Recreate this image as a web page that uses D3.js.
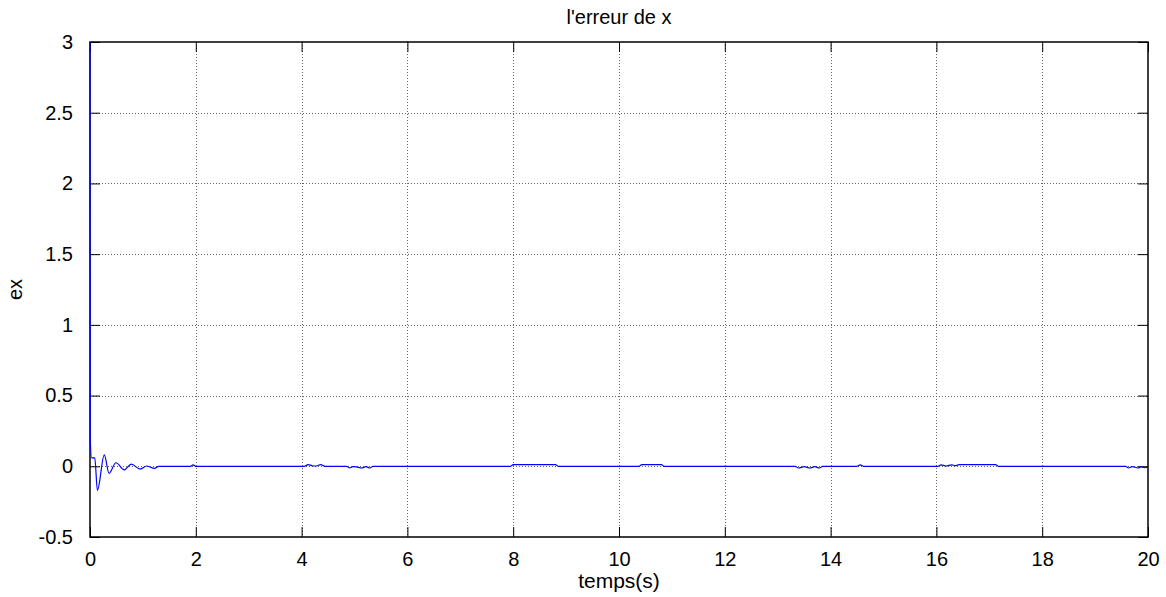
<!DOCTYPE html>
<html>
<head>
<meta charset="utf-8">
<script src="https://cdn.jsdelivr.net/npm/d3@7"></script>
<style>
  body { margin: 0; background: #fff; }
  text { font-family: "Liberation Sans", Arial, sans-serif; fill: #000; }
</style>
</head>
<body>
<div id="chart"></div>
<script>
// time samples (s) and error values
var tData = [0, 0.005, 0.03, 0.09, 0.14, 0.27, 0.36, 0.49, 0.65, 0.78, 0.95, 1.07, 1.22, 1.3,
  1.9, 1.95, 2.0, 4.05, 4.12, 4.2, 4.28, 4.36, 4.45, 4.85, 4.91, 4.97, 5.03, 5.13, 5.22, 5.29, 5.35,
  7.95, 8.0, 8.8, 8.85, 10.38, 10.43, 10.8, 10.85, 13.33, 13.39, 13.5, 13.61, 13.7, 13.79, 13.85,
  14.5, 14.56, 14.62, 16.03, 16.09, 16.18, 16.29, 16.36, 16.43, 17.12, 17.17,
  19.58, 19.63, 19.7, 19.81, 19.87, 19.94, 20];
var exData = [3, 0.18, 0.06, 0.06, -0.17, 0.08, -0.05, 0.025, -0.025, 0.015, -0.02, 0.002, -0.015, 0,
  0, 0.01, 0, 0, 0.012, 0.004, 0.002, 0.012, 0, 0, -0.012, -0.003, -0.004, -0.012, -0.003, -0.012, 0,
  0, 0.012, 0.012, 0, 0, 0.012, 0.012, 0, 0, -0.012, -0.003, -0.012, -0.003, -0.012, 0,
  0, 0.01, 0, 0, 0.01, 0.002, 0.01, 0.004, 0.012, 0.012, 0,
  0, -0.012, -0.002, -0.012, -0.004, -0.01, -0.005];

var xTicks = [0, 2, 4, 6, 8, 10, 12, 14, 16, 18, 20];
var yTicks = [-0.5, 0, 0.5, 1, 1.5, 2, 2.5, 3];

var W = 1166, H = 597;
var pL = 90, pR = 1148, pT = 42, pB = 537;

var svg = d3.select('#chart').append('svg')
    .attr('width', W)
    .attr('height', H);

var x = d3.scaleLinear().domain([0, 20]).range([pL, pR]);
var y = d3.scaleLinear().domain([-0.5, 3]).range([pB, pT]);

// grid
svg.append('g').selectAll('line')
    .data(xTicks.slice(1, -1)).enter().append('line')
    .attr('x1', function(d){ return Math.round(x(d)) + 0.5; })
    .attr('x2', function(d){ return Math.round(x(d)) + 0.5; })
    .attr('y1', pT).attr('y2', pB)
    .attr('stroke', '#666').attr('stroke-dasharray', '1,2');
svg.append('g').selectAll('line')
    .data(yTicks.slice(1, -1)).enter().append('line')
    .attr('y1', function(d){ return Math.round(y(d)) + 0.5; })
    .attr('y2', function(d){ return Math.round(y(d)) + 0.5; })
    .attr('x1', pL).attr('x2', pR)
    .attr('stroke', '#666').attr('stroke-dasharray', '1,2');

// axes (MATLAB style, inward ticks on all four sides)
var fmt = function(d){ return String(d); };
svg.append('g').attr('transform', 'translate(0,' + pB + ')')
    .call(d3.axisBottom(x).tickValues(xTicks).tickSizeInner(-10).tickSizeOuter(0).tickPadding(15).tickFormat(fmt));
svg.append('g').attr('transform', 'translate(0,' + pT + ')')
    .call(d3.axisTop(x).tickValues(xTicks).tickSizeInner(-10).tickSizeOuter(0).tickFormat(''));
svg.append('g').attr('transform', 'translate(' + pL + ',0)')
    .call(d3.axisLeft(y).tickValues(yTicks).tickSizeInner(-10).tickSizeOuter(0).tickPadding(17).tickFormat(fmt));
svg.append('g').attr('transform', 'translate(' + pR + ',0)')
    .call(d3.axisRight(y).tickValues(yTicks).tickSizeInner(-10).tickSizeOuter(0).tickFormat(''));

svg.selectAll('.domain').remove();
svg.selectAll('.tick line').attr('stroke', '#000');
svg.selectAll('.tick text').style('font-size', '20px').attr('fill', '#000');

svg.append('rect')
    .attr('x', pL).attr('y', pT)
    .attr('width', pR - pL).attr('height', pB - pT)
    .attr('fill', 'none').attr('stroke', '#000').attr('stroke-width', 1.5);

// signal
var pts = tData.map(function(t, i){ return [t, exData[i]]; });
svg.append('path')
    .datum(pts)
    .attr('fill', 'none')
    .attr('stroke', '#0000ff')
    .attr('stroke-width', 1.2)
    .attr('d', d3.line().curve(d3.curveMonotoneX)
        .x(function(d){ return x(d[0]); }).y(function(d){ return y(d[1]); }));

// labels
svg.append('text').attr('x', (pL + pR) / 2).attr('y', 24)
    .attr('text-anchor', 'middle').style('font-size', '20px').text("l'erreur de x");
svg.append('text').attr('x', (pL + pR) / 2).attr('y', 588)
    .attr('text-anchor', 'middle').style('font-size', '21px').text('temps(s)');
svg.append('text').attr('transform', 'translate(22,' + (pT + pB) / 2 + ') rotate(-90)')
    .attr('text-anchor', 'middle').style('font-size', '20px').text('ex');
</script>
</body>
</html>
